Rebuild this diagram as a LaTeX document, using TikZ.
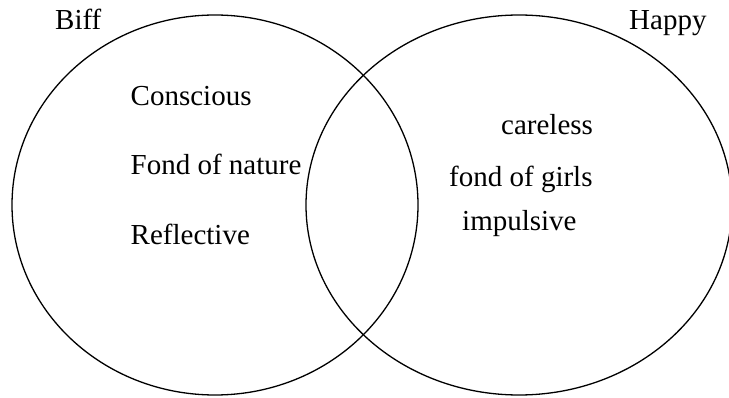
\documentclass[tikz,border=0pt]{standalone}
\usepackage{fontspec}
\setmainfont{Liberation Serif}
\usetikzlibrary{shapes.geometric}
\tikzset{
  setshape/.style={ellipse, draw, line width=1.3pt, inner sep=0pt},
  lbl/.style={anchor=base west, inner sep=0pt, font=\fontsize{29}{34}\selectfont}
}
\begin{document}
\begin{tikzpicture}[x=1pt,y=-1pt]
\useasboundingbox (0,0) rectangle (729,398);
\node[setshape, minimum width=406pt, minimum height=380pt] (biffset) at (215,205) {};
\node[setshape, minimum width=426pt, minimum height=380pt] (happyset) at (519,205) {};
\node[lbl] (biff) at (55,30) {Biff};
\node[lbl] (happy) at (629,30) {Happy};
\node[lbl] (conscious) at (130.5,106) {Conscious};
\node[lbl] (nature) at (130.5,175) {Fond of nature};
\node[lbl] (reflective) at (130.5,245) {Reflective};
\node[lbl] (careless) at (501,135) {careless};
\node[lbl] (girls) at (449,187) {fond of girls};
\node[lbl] (impulsive) at (462,231) {impulsive};
\end{tikzpicture}
\end{document}
